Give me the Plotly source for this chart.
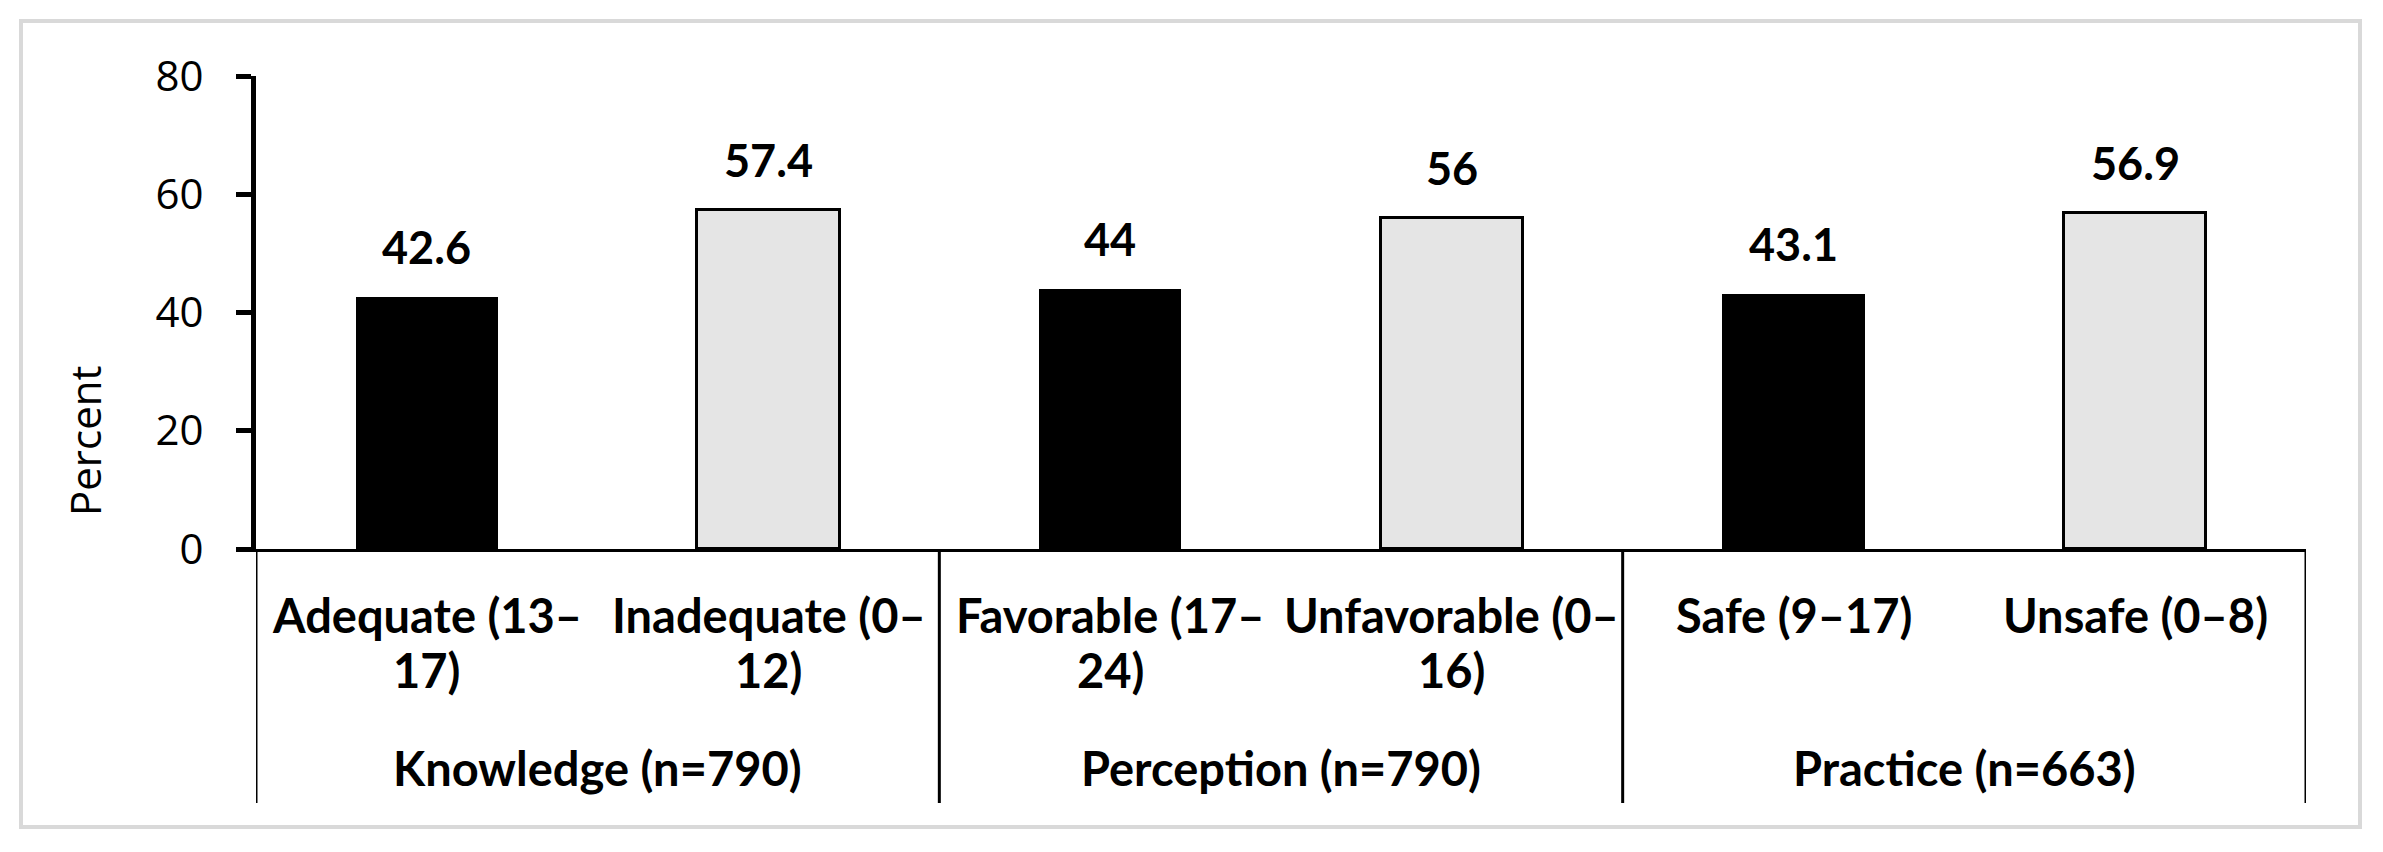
import plotly.graph_objects as go

# ---- data ----
categories = ["Adequate (13–\n17)", "Inadequate (0–\n12)",
              "Favorable (17–\n24)", "Unfavorable (0–\n16)",
              "Safe (9–17)", "Unsafe (0–8)"]
values = [42.6, 57.4, 44, 56, 43.1, 56.9]
value_labels = ["42.6", "57.4", "44", "56", "43.1", "56.9"]
groups = ["Knowledge (n=790)", "Perception (n=790)", "Practice (n=663)"]
y_ticks = [0, 20, 40, 60, 80]

# the page body has an 8px margin; work in page pixels and shift
OFF = 8
W, H = 2383 - OFF, 852 - OFF
L, R, T, B = 256 - OFF, 2306 - OFF, 76 - OFF, 549 - OFF  # plot area
pw, ph = R - L, B - T

def px(x):
    return (x - OFF - L) / pw

def py(y):
    return (B - (y - OFF)) / ph

xpos = list(range(len(categories)))
colors = ["#000000", "#e5e5e5"] * 3
line_w = [0, 3] * 3

fig = go.Figure()
fig.add_trace(go.Bar(
    x=xpos, y=values, width=0.416,
    marker=dict(color=colors, line=dict(color="#000000", width=line_w)),
    hoverinfo="skip", showlegend=False,
))

LBL = "Lato, Liberation Sans, sans-serif"
label_font = dict(family=LBL, size=47, color="#000000")
annotations = []
# value labels
for i, (v, t) in enumerate(zip(values, value_labels)):
    annotations.append(dict(x=i, y=v, xref="x", yref="y", text="<b>%s</b>" % t,
                            showarrow=False, yanchor="middle", yshift=50,
                            font=dict(family=LBL, size=45, color="#000000")))
# category labels (one annotation per line)
line_y = [615, 670]
for i, c in enumerate(categories):
    for k, part in enumerate(c.split("\n")):
        annotations.append(dict(x=i, y=py(line_y[k]), xref="x", yref="paper",
                                text="<b>%s</b>" % part, showarrow=False,
                                yanchor="middle", xanchor="center", font=label_font))
# group labels
for g, name in enumerate(groups):
    annotations.append(dict(x=2 * g + 0.5, y=py(768), xref="x", yref="paper",
                            text="<b>%s</b>" % name, showarrow=False,
                            yanchor="middle", xanchor="center", font=label_font))
# y axis title
annotations.append(dict(x=px(84), y=py(441), xref="paper", yref="paper", text="Percent",
                        textangle=-90, showarrow=False, xanchor="center", yanchor="middle",
                        font=dict(family="Open Sans, Noto Sans, sans-serif", size=42, color="#000000")))

shapes = []
# group separators below the axis
for xs in [-0.5, 1.5, 3.5, 5.5]:
    shapes.append(dict(type="line", xref="x", yref="paper", x0=xs, x1=xs,
                       y0=0, y1=py(803), line=dict(color="#000000", width=3)))
# outer border
shapes.append(dict(type="rect", xref="paper", yref="paper",
                   x0=px(21), x1=px(2360), y0=py(21), y1=py(827),
                   line=dict(color="#d9d9d9", width=4), layer="below"))

fig.update_layout(
    width=W, height=H,
    margin=dict(l=L, r=W - R, t=T, b=H - B, pad=0),
    paper_bgcolor="#ffffff", plot_bgcolor="#ffffff",
    bargap=0,
    xaxis=dict(range=[-0.5, 5.5], showticklabels=False, ticks="", showgrid=False,
               zeroline=False, showline=True, linecolor="#000000", linewidth=3),
    yaxis=dict(range=[0, 80], tickvals=y_ticks, ticks="outside", ticklen=15, tickwidth=5,
               tickcolor="#000000", showgrid=False, zeroline=False, showline=True,
               linecolor="#000000", linewidth=5, ticklabelstandoff=24,
               tickfont=dict(family="Open Sans, Noto Sans, sans-serif", size=42, color="#000000")),
    annotations=annotations,
    shapes=shapes,
)

fig.write_html("out.html")
